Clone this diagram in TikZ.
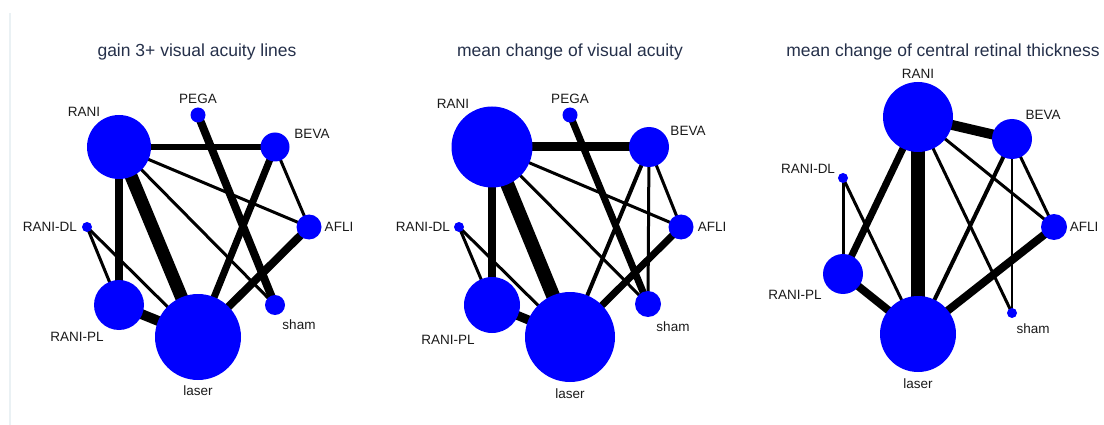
\documentclass[tikz,border=0pt]{standalone}
\usepackage{fontspec}
\setmainfont{Liberation Sans}
\usetikzlibrary{backgrounds}
\definecolor{titlecol}{HTML}{25304A}
\definecolor{framecol}{HTML}{EAF1F4}
\definecolor{labcol}{HTML}{1A1A1A}
\tikzset{
  vnode/.style={circle, fill=blue, draw=none, inner sep=0pt, minimum size=#1},
  lbl/.style={font=\fontsize{13.5}{16}\selectfont, text=labcol, inner sep=0pt},
  ttl/.style={font=\fontsize{17.5}{20}\selectfont, text=titlecol, inner sep=0pt},
  edge/.style={draw=black, line width=#1, line cap=butt},
}
\begin{document}
\begin{tikzpicture}[x=1pt,y=-1pt]
\useasboundingbox (0,0) rectangle (1104,425);
\fill[framecol] (9,13) rectangle (11,425);

% ---------------- Panel 1 ----------------
\node[ttl] (t1) at (197,52) {gain 3+ visual acuity lines};
\node[vnode=64pt] (a1) at (119,147) {};
\node[vnode=15pt] (b1) at (198,115) {};
\node[vnode=29pt] (c1) at (275,147) {};
\node[vnode=25pt] (d1) at (309,227) {};
\node[vnode=10pt] (e1) at (87,227) {};
\node[vnode=50pt] (f1) at (119,305) {};
\node[vnode=86pt] (g1) at (198,337) {};
\node[vnode=20pt] (h1) at (275,305) {};
\node[lbl] (la1) at (84,112) {RANI};
\node[lbl] (lb1) at (198,99) {PEGA};
\node[lbl] (lc1) at (312,134) {BEVA};
\node[lbl] (ld1) at (339,227) {AFLI};
\node[lbl] (le1) at (50,227) {RANI-DL};
\node[lbl] (lf1) at (77,337) {RANI-PL};
\node[lbl] (lg1) at (198,391) {laser};
\node[lbl] (lh1) at (299,325) {sham};
\begin{scope}[on background layer]
\draw[edge=6pt] (a1.center) -- (c1.center);
\draw[edge=3pt] (a1.center) -- (d1.center);
\draw[edge=3pt] (a1.center) -- (h1.center);
\draw[edge=13pt] (a1.center) -- (g1.center);
\draw[edge=8pt] (a1.center) -- (f1.center);
\draw[edge=8pt] (b1.center) -- (h1.center);
\draw[edge=7pt] (c1.center) -- (g1.center);
\draw[edge=3pt] (c1.center) -- (d1.center);
\draw[edge=8pt] (d1.center) -- (g1.center);
\draw[edge=3pt] (e1.center) -- (f1.center);
\draw[edge=3pt] (e1.center) -- (g1.center);
\draw[edge=10pt] (f1.center) -- (g1.center);
\end{scope}

% ---------------- Panel 2 ----------------
\node[ttl] (t2) at (570,52) {mean change of visual acuity};
\node[vnode=81pt] (a2) at (492,147) {};
\node[vnode=15pt] (b2) at (570,115) {};
\node[vnode=40pt] (c2) at (649,147) {};
\node[vnode=25pt] (d2) at (681,227) {};
\node[vnode=10pt] (e2) at (459,227) {};
\node[vnode=56pt] (f2) at (492,305) {};
\node[vnode=90pt] (g2) at (570,337) {};
\node[vnode=26pt] (h2) at (648,304) {};
\node[lbl] (la2) at (453,104) {RANI};
\node[lbl] (lb2) at (570,99) {PEGA};
\node[lbl] (lc2) at (688,131) {BEVA};
\node[lbl] (ld2) at (712,227) {AFLI};
\node[lbl] (le2) at (423,227) {RANI-DL};
\node[lbl] (lf2) at (448,340) {RANI-PL};
\node[lbl] (lg2) at (570,394) {laser};
\node[lbl] (lh2) at (673,327) {sham};
\begin{scope}[on background layer]
\draw[edge=9pt] (a2.center) -- (c2.center);
\draw[edge=3pt] (a2.center) -- (d2.center);
\draw[edge=3pt] (a2.center) -- (h2.center);
\draw[edge=14pt] (a2.center) -- (g2.center);
\draw[edge=8pt] (a2.center) -- (f2.center);
\draw[edge=7pt] (b2.center) -- (h2.center);
\draw[edge=4pt] (c2.center) -- (g2.center);
\draw[edge=3pt] (c2.center) -- (h2.center);
\draw[edge=3pt] (c2.center) -- (d2.center);
\draw[edge=7pt] (d2.center) -- (g2.center);
\draw[edge=3pt] (e2.center) -- (f2.center);
\draw[edge=3pt] (e2.center) -- (g2.center);
\draw[edge=9pt] (f2.center) -- (g2.center);
\end{scope}

% ---------------- Panel 3 ----------------
\node[ttl] (t3) at (943,52) {mean change of central retinal thickness};
\node[vnode=70pt] (a3) at (918,117) {};
\node[vnode=40pt] (c3) at (1012,139) {};
\node[vnode=26pt] (d3) at (1054,227) {};
\node[vnode=10pt] (e3) at (843,178) {};
\node[vnode=40pt] (f3) at (843,274) {};
\node[vnode=76pt] (g3) at (918,334) {};
\node[vnode=10pt] (h3) at (1012,313) {};
\node[lbl] (la3) at (918,74) {RANI};
\node[lbl] (lc3) at (1043,115) {BEVA};
\node[lbl] (ld3) at (1084,227) {AFLI};
\node[lbl] (le3) at (808,169) {RANI-DL};
\node[lbl] (lf3) at (795,295) {RANI-PL};
\node[lbl] (lg3) at (918,384) {laser};
\node[lbl] (lh3) at (1033,329) {sham};
\begin{scope}[on background layer]
\draw[edge=10pt] (a3.center) -- (c3.center);
\draw[edge=3pt] (a3.center) -- (d3.center);
\draw[edge=3pt] (a3.center) -- (h3.center);
\draw[edge=14pt] (a3.center) -- (g3.center);
\draw[edge=7pt] (a3.center) -- (f3.center);
\draw[edge=4pt] (c3.center) -- (g3.center);
\draw[edge=2.5pt] (c3.center) -- (h3.center);
\draw[edge=3pt] (c3.center) -- (d3.center);
\draw[edge=8pt] (d3.center) -- (g3.center);
\draw[edge=3pt] (e3.center) -- (f3.center);
\draw[edge=3pt] (e3.center) -- (g3.center);
\draw[edge=8pt] (f3.center) -- (g3.center);
\end{scope}
\end{tikzpicture}
\end{document}
